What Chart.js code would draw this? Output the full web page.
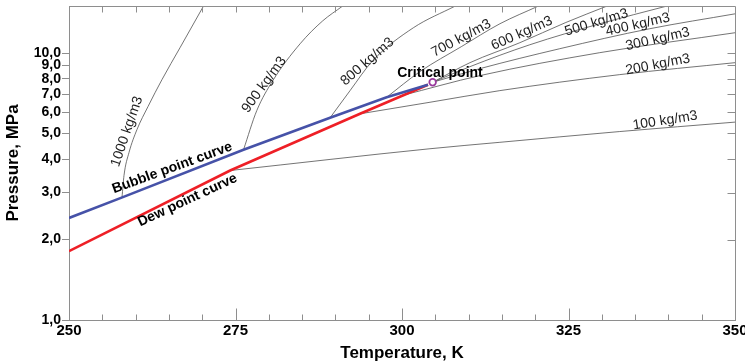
<!DOCTYPE html>
<html>
<head>
<meta charset="utf-8">
<script src="https://cdn.jsdelivr.net/npm/chart.js@4.4.1/dist/chart.umd.min.js"></script>
<style>
    html, body { margin: 0; padding: 0; background: #fff; }
    #wrap { width: 745px; height: 361px; }
</style>
</head>
<body>
<div id="wrap"><canvas id="chart" width="745" height="361"></canvas></div>
<script>
// axis ticks
const xTicks = [250, 275, 300, 325, 350];
const yTicks = [1, 2, 3, 4, 5, 6, 7, 8, 9, 10];

// saturation curves (T in K, P in MPa)
const bubbleT = [250, 258.0, 276.2, 289.2, 297.7, 303.9];
const bubbleP = [2.41, 2.88, 4.34, 5.72, 6.83, 7.61];
const dewT = [250, 274.2, 293.7, 303.9];
const dewP = [1.81, 3.63, 5.92, 7.61];
const critT = [304.6];
const critP = [7.77];

// isochores
const isoNames = ['1000 kg/m3', '900 kg/m3', '800 kg/m3', '700 kg/m3', '600 kg/m3',
    '500 kg/m3', '400 kg/m3', '300 kg/m3', '200 kg/m3', '100 kg/m3'];
const iso1000T = [257.96, 258.26, 259.01, 260.21, 261.86, 263.96, 266.67, 270.2];
const iso1000P = [2.88, 3.48, 4.24, 5.17, 6.30, 7.95, 10.47, 15];
const iso900T = [276.2, 278.2, 280.6, 284.7, 288.1, 291.1];
const iso900P = [4.34, 6.09, 7.88, 10.83, 13.2, 15];
const iso800T = [289.2, 292.2, 295.6, 301.7, 308.0];
const iso800P = [5.72, 7.23, 9.36, 12.43, 15];
const iso700T = [297.7, 302.7, 308.9, 314.7, 320.5];
const iso700P = [6.83, 8.52, 10.56, 12.87, 15];
const iso600T = [304.6, 310.2, 317.7, 324.5, 330.8];
const iso600P = [7.77, 9.2, 10.93, 12.98, 15];
const iso500T = [304.6, 310.2, 319.2, 329.7, 339.8];
const iso500P = [7.77, 8.89, 10.74, 12.87, 15];
const iso400T = [304.6, 311.7, 323.7, 337.2, 350];
const iso400P = [7.77, 8.74, 10.38, 12.33, 14.02];
const iso300T = [300.0, 311.7, 329.7, 350];
const iso300P = [6.93, 8.23, 10.03, 11.91];
const iso200T = [293.7, 304.2, 314.7, 332.7, 350];
const iso200P = [5.92, 6.54, 7.23, 8.3, 9.2];
const iso100T = [274.2, 304.2, 314.7, 332.7, 350];
const iso100P = [3.63, 4.38, 4.63, 5.08, 5.51];

const isoT = [iso1000T, iso900T, iso800T, iso700T, iso600T, iso500T, iso400T, iso300T, iso200T, iso100T];
const isoP = [iso1000P, iso900P, iso800P, iso700P, iso600P, iso500P, iso400P, iso300P, iso200P, iso100P];

// text placed along the curves: [text, T, P, angle in degrees, bold]
const curveLabels = [
    ['1000 kg/m3', 258.7, 5.08, -71, false],
    ['900 kg/m3', 279.3, 7.61, -54, false],
    ['800 kg/m3', 294.8, 9.28, -41, false],
    ['700 kg/m3', 308.9, 11.36, -28, false],
    ['600 kg/m3', 318.0, 11.86, -24, false],
    ['500 kg/m3', 329.2, 13.0, -17, false],
    ['400 kg/m3', 335.4, 12.76, -13, false],
    ['300 kg/m3', 338.4, 11.26, -13, false],
    ['200 kg/m3', 338.4, 9.05, -11, false],
    ['100 kg/m3', 339.5, 5.58, -9, false],
    ['Bubble point curve', 265.5, 3.71, -20, true],
    ['Dew point curve', 267.8, 2.81, -25, true],
    ['Critical point', 305.7, 8.44, 0, true]
];

const FONT = "'Liberation Sans', Arial, sans-serif";
const axisColor = '#8e8e8e';

function toPoints(T, P) {
    return T.map((t, i) => ({ x: t, y: P[i] }));
}

// frame on top/right plus inward tick marks
const frameTicks = {
    id: 'frameTicks',
    afterDraw(chart) {
        const { ctx, chartArea: a, scales: { x, y } } = chart;
        const r = v => Math.round(v) + 0.5;
        ctx.save();
        ctx.strokeStyle = axisColor;
        ctx.lineWidth = 1;
        ctx.beginPath();
        ctx.moveTo(r(a.left), r(a.top));
        ctx.lineTo(r(a.right), r(a.top));
        ctx.lineTo(r(a.right), r(a.bottom));
        for (let t = x.min + 5; t < x.max; t += 5) {
            const px = r(x.getPixelForValue(t));
            const len = (t % 25 === 0) ? 12 : 6;
            ctx.moveTo(px, r(a.bottom));
            ctx.lineTo(px, r(a.bottom) - len);
            ctx.moveTo(px, r(a.top));
            ctx.lineTo(px, r(a.top) + 6);
        }
        yTicks.slice(1).forEach(v => {
            const py = r(y.getPixelForValue(v));
            ctx.moveTo(r(a.right), py);
            ctx.lineTo(r(a.right) - 8, py);
        });
        ctx.stroke();
        ctx.restore();
    }
};

const textLabels = {
    id: 'textLabels',
    afterDatasetsDraw(chart) {
        const { ctx, scales: { x, y } } = chart;
        ctx.save();
        ctx.textAlign = 'center';
        ctx.textBaseline = 'middle';
        curveLabels.forEach(([text, t, p, angle, bold]) => {
            ctx.save();
            ctx.translate(x.getPixelForValue(t), y.getPixelForValue(p));
            ctx.rotate(angle * Math.PI / 180);
            ctx.font = (bold ? 'bold ' : '') + '14px ' + FONT;
            ctx.fillStyle = bold ? '#000' : '#1e1e1e';
            ctx.fillText(text, 0, 0);
            ctx.restore();
        });
        ctx.restore();
    }
};

const datasets = [];

datasets.push({
    label: 'Critical point',
    data: toPoints(critT, critP),
    pointRadius: 3.3,
    pointBorderWidth: 1.8,
    pointBorderColor: '#9a3a9e',
    pointBackgroundColor: '#ffffff',
    showLine: false
});
datasets.push({
    label: 'Bubble point curve',
    data: toPoints(bubbleT, bubbleP),
    borderColor: '#4652a8',
    borderWidth: 2.6,
    pointRadius: 0,
    showLine: true,
    tension: 0
});
datasets.push({
    label: 'Dew point curve',
    data: toPoints(dewT, dewP),
    borderColor: '#ee1f26',
    borderWidth: 2.6,
    pointRadius: 0,
    showLine: true,
    tension: 0
});
isoNames.forEach((name, i) => {
    datasets.push({
        label: name,
        data: toPoints(isoT[i], isoP[i]),
        borderColor: '#505050',
        borderWidth: 0.8,
        pointRadius: 0,
        showLine: true,
        cubicInterpolationMode: 'monotone'
    });
});

new Chart(document.getElementById('chart'), {
    type: 'scatter',
    data: { datasets },
    options: {
        responsive: false,
        animation: false,
        devicePixelRatio: 1,
        layout: { padding: { left: 0, right: 10, top: 6, bottom: 0 } },
        plugins: {
            legend: { display: false },
            tooltip: { enabled: false }
        },
        scales: {
            x: {
                type: 'linear',
                position: 'bottom',
                min: 250,
                max: 350,
                afterBuildTicks: s => { s.ticks = xTicks.map(v => ({ value: v })); },
                afterFit: s => { s.height = 41; s.paddingLeft = 0; s.paddingRight = 0; },
                grid: { display: false, drawTicks: false },
                border: { display: true, color: axisColor, width: 1 },
                ticks: {
                    padding: 2,
                    maxRotation: 0,
                    color: '#000',
                    font: { family: FONT, size: 15, weight: 'bold' }
                },
                title: {
                    display: true,
                    text: 'Temperature, K',
                    color: '#000',
                    padding: { top: 0, bottom: -3 },
                    font: { family: FONT, size: 17, weight: 'bold' }
                }
            },
            y: {
                type: 'logarithmic',
                position: 'left',
                min: 1,
                max: 15,
                afterBuildTicks: s => { s.ticks = yTicks.map(v => ({ value: v })); },
                afterFit: s => { s.width = 69; s.paddingTop = 0; s.paddingBottom = 0; },
                grid: { drawOnChartArea: false, drawTicks: true, tickLength: 7, color: axisColor },
                border: { display: true, color: axisColor, width: 1 },
                ticks: {
                    padding: 1,
                    color: '#000',
                    font: { family: FONT, size: 14, weight: 'bold' },
                    callback: v => v.toFixed(1).replace('.', ',')
                },
                title: {
                    display: true,
                    text: 'Pressure, MPa',
                    color: '#000',
                    padding: { top: 3, bottom: 0 },
                    font: { family: FONT, size: 17, weight: 'bold' }
                }
            }
        }
    },
    plugins: [frameTicks, textLabels]
});
</script>
</body>
</html>
